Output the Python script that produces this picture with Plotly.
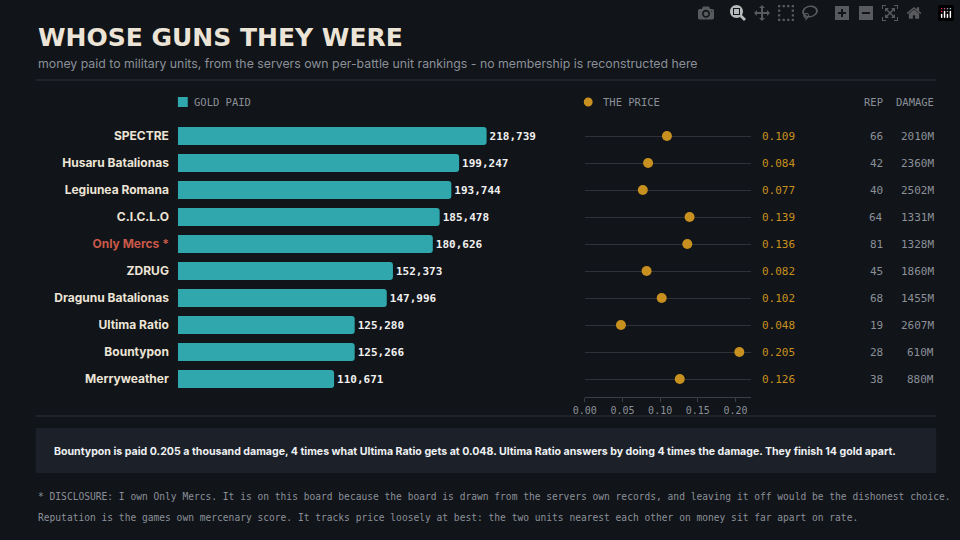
import plotly.graph_objects as go

units = ["SPECTRE","Husaru Batalionas","Legiunea Romana","C.I.C.L.O","Only Mercs *","ZDRUG",
         "Dragunu Batalionas","Ultima Ratio","Bountypon","Merryweather"]
gold = [218739,199247,193744,185478,180626,152373,147996,125280,125266,110671]
price = [0.109,0.084,0.077,0.139,0.136,0.082,0.102,0.048,0.205,0.126]
rep = [66,42,40,64,81,45,68,19,28,38]
damage = ["2010M","2360M","2502M","1331M","1328M","1860M","1455M","2607M","610M","880M"]

BG="#111418"; TEAL="#2fa7ad"; GOLD="#c8911f"; CREAM="#ece4d6"; GREY="#8b9098"; MONO="DejaVu Sans Mono"
W,H=960,540
def fx(p): return p/W
def fy(p): return 1-p/H

fig=go.Figure()
fig.add_trace(go.Bar(x=gold,y=units,orientation="h",marker=dict(color=TEAL,cornerradius=3,line=dict(width=0)),
    width=0.66,text=[f"<b>{g:,}</b>" for g in gold],textposition="outside",cliponaxis=False,
    textfont=dict(family=MONO,size=11,color="#f0f0f0"),hoverinfo="skip"))
fig.add_trace(go.Scatter(x=price,y=units,mode="markers",xaxis="x2",yaxis="y2",
    marker=dict(color=GOLD,size=10),hoverinfo="skip"))

ticktext=[f"<span style='color:#c9594a'>{u}</span>" if u.startswith("Only") else u for u in units]
yr=[9.5,-0.5]
ydom=[fy(392.5),fy(122.5)]
fig.update_layout(
    width=W,height=H,paper_bgcolor=BG,plot_bgcolor=BG,margin=dict(l=0,r=0,t=0,b=0),showlegend=False,
    font=dict(family="Inter",color=CREAM),
    xaxis=dict(domain=[fx(168),fx(511)],range=[0,240000],visible=False),
    yaxis=dict(domain=ydom,range=yr,tickvals=units,ticktext=ticktext,showgrid=False,
               tickfont=dict(family="Inter",size=12,color=CREAM,weight="bold"),ticks="",ticklabelstandoff=8),
    xaxis2=dict(domain=[fx(580),fx(748)],range=[0,0.22],anchor="free",position=fy(397),
                tickvals=[0,0.05,0.1,0.15,0.2],ticktext=["0.00","0.05","0.10","0.15","0.20"],
                showgrid=False,zeroline=False,showline=True,linecolor="#3a3f47",ticks="outside",
                tickcolor="#3a3f47",ticklen=4,tickfont=dict(family=MONO,size=10,color=GREY)),
    yaxis2=dict(domain=ydom,range=yr,anchor="x2",showticklabels=False,showgrid=True,
                gridcolor="#2e333b",gridwidth=1,zeroline=False),
)
ann=[]
def A(x,y,t,**k):
    d=dict(x=x,y=y,xref="paper",yref="paper",text=t,showarrow=False,xanchor="left",yanchor="middle")
    d.update(k); ann.append(d)
A(fx(24),fy(37),"WHOSE GUNS THEY WERE",font=dict(family="DejaVu Sans",size=25,color=CREAM,weight="bold"))
A(fx(24),fy(63),"money paid to military units, from the servers own per-battle unit rankings - no membership is reconstructed here",font=dict(size=12.3,color=GREY))
A(fx(182),fy(102),"GOLD PAID",font=dict(family=MONO,size=10.5,color=GREY))
A(fx(596),fy(102),"THE PRICE",font=dict(family=MONO,size=10.5,color=GREY))
A(fx(884),fy(102),"REP",xanchor="right",font=dict(family=MONO,size=10.5,color=GREY))
A(fx(936),fy(102),"DAMAGE",xanchor="right",font=dict(family=MONO,size=10.5,color=GREY))
for u,p,r,d in zip(units,price,rep,damage):
    ann.append(dict(x=fx(757),y=u,xref="paper",yref="y",text=f"{p:.3f}",showarrow=False,xanchor="left",font=dict(family=MONO,size=11,color=GOLD)))
    ann.append(dict(x=fx(884),y=u,xref="paper",yref="y",text=str(r),showarrow=False,xanchor="right",font=dict(family=MONO,size=11,color=GREY)))
    ann.append(dict(x=fx(936),y=u,xref="paper",yref="y",text=d,showarrow=False,xanchor="right",font=dict(family=MONO,size=11,color=GREY)))
A(fx(40),fy(451),"Bountypon is paid 0.205 a thousand damage, 4 times what Ultima Ratio gets at 0.048. Ultima Ratio answers by doing 4 times the damage. They finish 14 gold apart.",
  font=dict(size=10.6,color="#eef0f2",weight="bold"))
A(fx(24),fy(496),"* DISCLOSURE: I own Only Mercs. It is on this board because the board is drawn from the servers own records, and leaving it off would be the dishonest choice.",font=dict(family=MONO,size=9.6,color=GREY))
A(fx(24),fy(517),"Reputation is the games own mercenary score. It tracks price loosely at best: the two units nearest each other on money sit far apart on rate.",font=dict(family=MONO,size=9.6,color=GREY))
fig.update_layout(annotations=ann)
shapes=[dict(type="line",xref="paper",yref="paper",x0=fx(24),x1=fx(936),y0=fy(80),y1=fy(80),line=dict(color="#2e333b",width=1)),
        dict(type="line",xref="paper",yref="paper",x0=fx(24),x1=fx(936),y0=fy(416),y1=fy(416),line=dict(color="#2e333b",width=1)),
        dict(type="rect",xref="paper",yref="paper",x0=fx(24),x1=fx(936),y0=fy(473),y1=fy(428),fillcolor="#1b2029",line=dict(width=0),layer="below"),
        dict(type="rect",xref="paper",yref="paper",x0=fx(168),x1=fx(178),y0=fy(107),y1=fy(97),fillcolor=TEAL,line=dict(width=0)),
        dict(type="circle",xref="paper",yref="paper",x0=fx(579),x1=fx(588),y0=fy(106.5),y1=fy(97.5),fillcolor=GOLD,line=dict(width=0))]
fig.update_layout(shapes=shapes)
html=fig.to_html(full_html=True)
html=html.replace("<body>","<body style=\"margin:0;padding:0;overflow:hidden;background:#111418\">",1)
with open("out.html","w",encoding="utf-8") as f:
    f.write(html)
